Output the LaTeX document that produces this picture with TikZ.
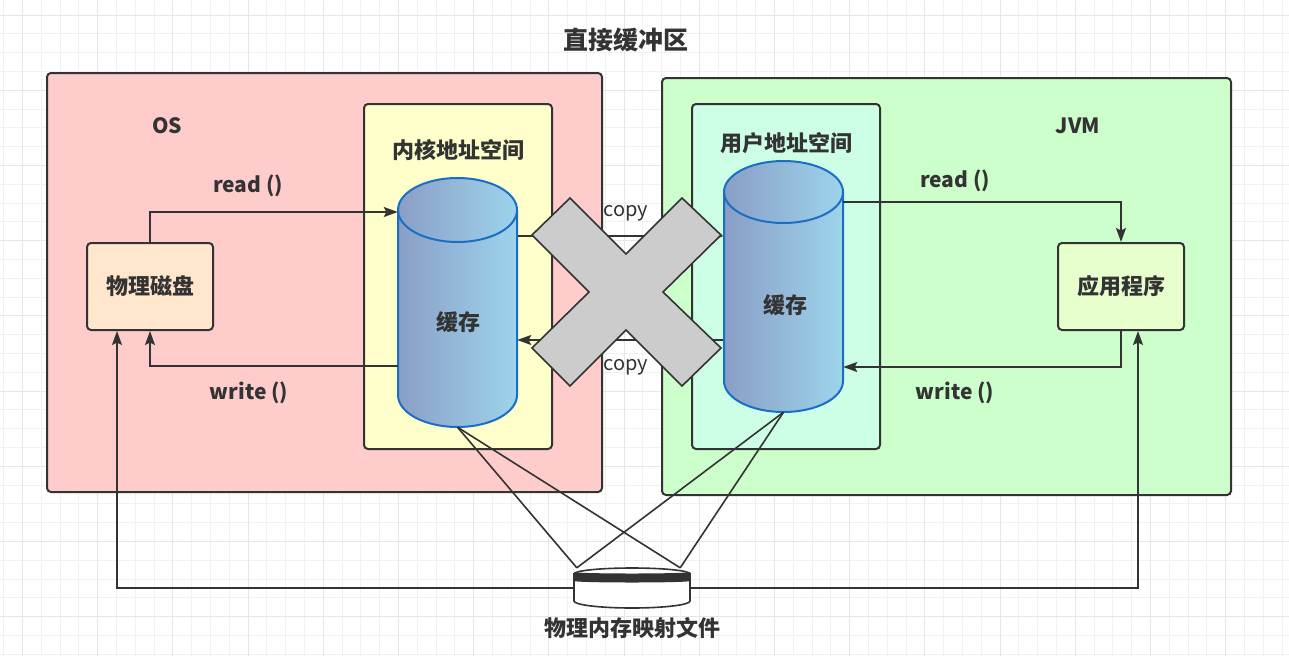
\documentclass[tikz,border=0pt]{standalone}
\usepackage{fontspec}
\setmainfont{Noto Sans CJK SC}
\usetikzlibrary{arrows.meta}

\definecolor{linegray}{HTML}{333333}
\definecolor{gridminor}{HTML}{F1F1F1}
\definecolor{gridmajor}{HTML}{E6E6E6}
\definecolor{osfill}{HTML}{FFCCCC}
\definecolor{kernelfill}{HTML}{FFFFCC}
\definecolor{jvmfill}{HTML}{CCFFCC}
\definecolor{userfill}{HTML}{CCFFE6}
\definecolor{diskfill}{HTML}{FFE6CC}
\definecolor{appfill}{HTML}{E6FFCC}
\definecolor{cacheleft}{HTML}{8A9EC6}
\definecolor{cacheright}{HTML}{9DD4EC}
\definecolor{cacheline}{HTML}{1A6FC4}
\definecolor{crossfill}{HTML}{CCCCCC}

\begin{document}
\begin{tikzpicture}[x=1pt, y=-1pt,
    box/.style={draw=linegray, line width=2pt, rounded corners=4pt, inner sep=0pt},
    conn/.style={draw=linegray, line width=1.6pt, -{Stealth[length=14pt, width=10pt, inset=2.5pt]}},
    plain/.style={draw=linegray, line width=1.6pt},
    cn/.style={text=linegray, font=\fontsize{22}{26}\selectfont\bfseries},
    fn/.style={text=linegray, font=\fontsize{21}{25}\selectfont\bfseries},
    copytext/.style={text=linegray, font=\fontsize{20}{24}\selectfont}]
        \useasboundingbox (0,0) rectangle (1289,656);
        \fill[white] (0,0) rectangle (1289,656);

        % Grid
        \foreach \gx in {3.7,22.5,...,1289} \draw[gridminor, line width=1pt] (\gx,0) -- (\gx,656);
        \foreach \gy in {15,33.8,...,656} \draw[gridminor, line width=1pt] (0,\gy) -- (1289,\gy);
        \foreach \gx in {22.5,97.7,...,1289} \draw[gridmajor, line width=1pt] (\gx,0) -- (\gx,656);
        \foreach \gy in {15,90.2,...,656} \draw[gridmajor, line width=1pt] (0,\gy) -- (1289,\gy);

        % Title
        \node[text=linegray, font=\fontsize{25}{30}\selectfont\bfseries] (title) at (626,40) {直接缓冲区};

        % OS and JVM
        \node[box, fill=osfill, minimum width=555, minimum height=419] (os) at (324.5,282.5) {};
        \node[box, fill=jvmfill, minimum width=569, minimum height=417] (jvm) at (946.5,286.5) {};
        \node[fn] (oslabel) at (167,126) {OS};
        \node[fn] (jvmlabel) at (1078,126) {JVM};

        % Address spaces
        \node[box, fill=kernelfill, minimum width=188, minimum height=345] (kernel) at (458,276.5) {};
        \node[box, fill=userfill, minimum width=188, minimum height=345] (user) at (786,276.5) {};
        \node[cn] (kernellabel) at (458,150) {内核地址空间};
        \node[cn] (userlabel) at (786,143) {用户地址空间};

        % Disk and application
        \node[box, fill=diskfill, minimum width=126, minimum height=87] (disk) at (150,286.5) {};
        \node[cn] at (disk) {物理磁盘};
        \node[box, fill=appfill, minimum width=126, minimum height=87] (app) at (1121,286.5) {};
        \node[cn] at (app) {应用程序};

        % Cache cylinders
        \node[inner sep=0pt, minimum width=119, minimum height=249] (cylL) at (457.5,302.5) {};
        \node[inner sep=0pt, minimum width=119, minimum height=251] (cylR) at (783.5,286.5) {};

        % Copy lines (crossed out)
        \draw[conn] ([yshift=66.5]cylL.east) -- ([yshift=50.5]cylR.west);
        \draw[conn] ([yshift=-53.5]cylR.west) -- ([yshift=-37.5]cylL.east);
        \node[copytext] (copytop) at (626,213) {copy};
        \node[copytext] (copybottom) at (626,367) {copy};

        \shade[left color=cacheleft, right color=cacheright] (398,210) -- (398,395)
            arc[start angle=180, end angle=0, x radius=59.5, y radius=32] -- (517,210)
            arc[start angle=0, end angle=-180, x radius=59.5, y radius=32] -- cycle;
        \draw[cacheline, line width=2pt] (398,210) -- (398,395)
            arc[start angle=180, end angle=0, x radius=59.5, y radius=32] -- (517,210);
        \draw[cacheline, line width=2pt] (457.5,210) ellipse[x radius=59.5, y radius=32];
        \node[cn] (cacheL) at (458,322) {缓存};

        \shade[left color=cacheleft, right color=cacheright] (724,192) -- (724,381)
            arc[start angle=180, end angle=0, x radius=59.5, y radius=31] -- (843,192)
            arc[start angle=0, end angle=-180, x radius=59.5, y radius=31] -- cycle;
        \draw[cacheline, line width=2pt] (724,192) -- (724,381)
            arc[start angle=180, end angle=0, x radius=59.5, y radius=31] -- (843,192);
        \draw[cacheline, line width=2pt] (783.5,192) ellipse[x radius=59.5, y radius=31];
        \node[cn] (cacheR) at (785,305) {缓存};

        % The cross
        \filldraw[fill=crossfill, draw=linegray, line width=1.6pt, line join=miter]
            (626,254) -- (682,198) -- (721,235) -- (663,292) -- (721,348) -- (682,386)
            -- (626,330) -- (570,386) -- (532,348) -- (589,292) -- (532,235) -- (570,198) -- cycle;

        % read / write in OS
        \draw[conn] (disk.north) |- ([yshift=90.5]cylL.west);
        \draw[conn] ([yshift=-63.5]cylL.west) -| (disk.south);
        \node[fn] (readL) at (248,186) {read ()};
        \node[fn] (writeL) at (249,393) {write ()};

        % read / write in JVM
        \draw[conn] ([yshift=84.5]cylR.east) -| (app.north);
        \draw[conn] (app.south) |- ([yshift=-80.5]cylR.east);
        \node[fn] (readR) at (955,181) {read ()};
        \node[fn] (writeR) at (955,393) {write ()};

        % Memory mapped file
        \node[inner sep=0pt, minimum width=116, minimum height=40] (map) at (632,588) {};
        \draw[plain] (cylL.south) -- ([xshift=3]map.north west);
        \draw[plain] (cylL.south) -- ([xshift=-10]map.north east);
        \draw[plain] (cylR.south) -- ([xshift=3]map.north west);
        \draw[plain] (cylR.south) -- ([xshift=-10]map.north east);
        \draw[conn] (map.west) -| ([xshift=-33]disk.south);
        \draw[conn] (map.east) -| ([xshift=17]app.south);

        \filldraw[fill=white, draw=linegray, line width=1.6pt] (574,574) -- (574,601)
            arc[start angle=180, end angle=0, x radius=58, y radius=7] -- (690,574) -- cycle;
        \filldraw[fill=white, draw=linegray, line width=1.6pt] (632,574) ellipse[x radius=58, y radius=6];
        \fill[linegray] (574,572) arc[start angle=180, end angle=0, x radius=58, y radius=1.5]
            -- (690,581) arc[start angle=0, end angle=180, x radius=58, y radius=1.5] -- cycle;
        \node[cn] (maplabel) at (632,628) {物理内存映射文件};
    \end{tikzpicture}
\end{document}
